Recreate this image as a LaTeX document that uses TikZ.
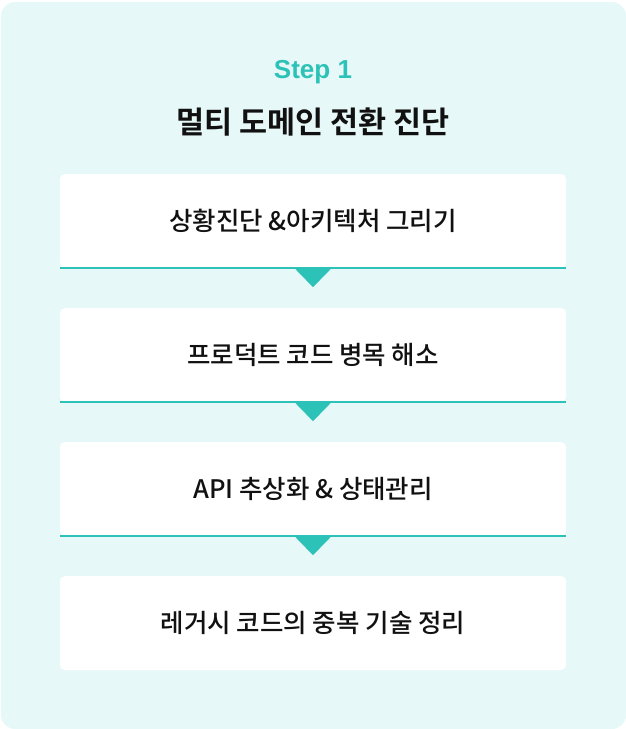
\documentclass[tikz,border=0pt]{standalone}
\usepackage{fontspec}
\usetikzlibrary{calc}
\newfontfamily\krfont{Noto Sans CJK KR}[UprightFont={* Medium}]
\newfontfamily\krbold{Noto Sans CJK KR}[UprightFont={* Bold}]
\newfontfamily\latfont{Liberation Sans}
\definecolor{bgmint}{HTML}{E7F8F8}
\definecolor{mintteal}{HTML}{2CC2B7}
\definecolor{inkblack}{HTML}{111111}
\tikzset{
  stepbox/.style={fill=white, rounded corners=5pt, minimum width=506pt, minimum height=94pt, inner sep=0pt, text=inkblack, font=\krfont\fontsize{25.5}{30}\selectfont},
  bottomline/.style={draw=mintteal, line width=2pt},
  pointer/.style={fill=mintteal},
}
\begin{document}
\begin{tikzpicture}[x=1pt,y=-1pt]
\useasboundingbox (0,0) rectangle (626,729);
\fill[bgmint, rounded corners=14pt] (1,2) rectangle (626,729);
\node[text=mintteal, font=\latfont\bfseries\fontsize{26}{30}\selectfont] (step) at (313,72.5) {Step 1};
\node[text=inkblack, font=\krbold\fontsize{30.5}{34}\selectfont] (title) at (313,122) {멀티 도메인 전환 진단};
\node[stepbox] (b1) at (313,221) {상황진단 \&아키텍처 그리기};
\node[stepbox] (b2) at (313,355) {프로덕트 코드 병목 해소};
\node[stepbox] (b3) at (313,489) {API 추상화 \& 상태관리};
\node[stepbox] (b4) at (313,623) {레거시 코드의 중복 기술 정리};
\foreach \b in {b1,b2,b3}{
  \draw[bottomline] (\b.south west) -- (\b.south east);
  \fill[pointer] ($(\b.south)+(-17.5,1)$) -- ($(\b.south)+(17.5,1)$) -- ($(\b.south)+(0,19)$) -- cycle;
}
\end{tikzpicture}
\end{document}
